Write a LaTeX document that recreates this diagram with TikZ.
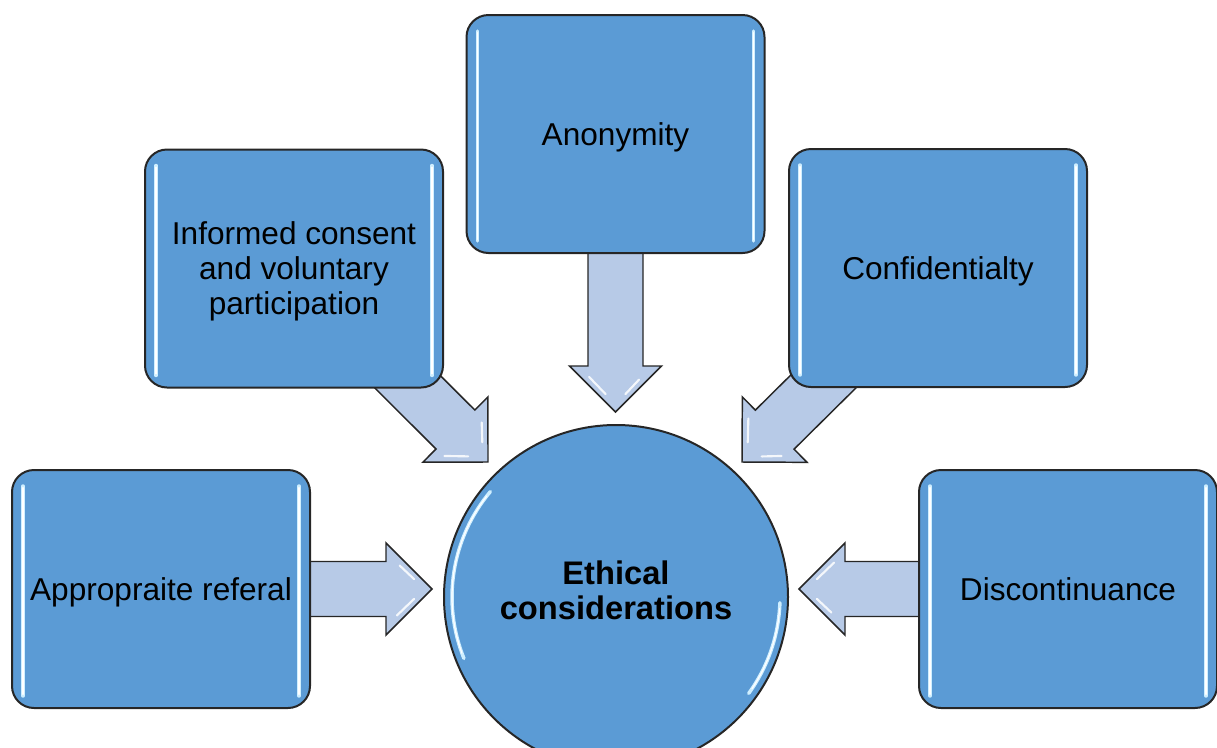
\documentclass[tikz,border=0pt]{standalone}
\usepackage{fontspec}
\setmainfont{Liberation Sans}
\usetikzlibrary{calc}
\pgfdeclarelayer{bg}
\pgfsetlayers{bg,main}
\definecolor{boxblue}{HTML}{5B9BD5}
\definecolor{arrowblue}{HTML}{B7CAE7}
\definecolor{edgegray}{HTML}{262626}
\definecolor{glint}{HTML}{CFEFFF}
\tikzset{
  boxnode/.style={draw=edgegray, line width=1.5pt, fill=boxblue, rounded corners=16.5pt,
    minimum width=223.5pt, minimum height=178.5pt, inner sep=0pt, align=center,
    font=\fontsize{23.7}{26.25}\selectfont, text=black, text height=17pt, text depth=0pt},
  hubnode/.style={circle, draw=edgegray, line width=1.5pt, fill=boxblue, minimum size=258pt,
    inner sep=0pt, align=center, font=\fontsize{24.5}{26.25}\selectfont\bfseries, text=black,
    text height=43.75pt, text depth=10.5pt},
  arrowsty/.style={draw=edgegray, line width=1.1pt, fill=arrowblue, line join=miter},
  glintline/.style={draw=glint, line width=2.6pt, line cap=round},
  glintcore/.style={draw=white, line width=0.9pt, line cap=round},
  streak/.style={draw=white, line width=1.6pt, line cap=round, opacity=0.85},
}
\newcommand\blockarrow[2]{%
  \draw[arrowsty] (#2) -- ($(#2)!48.79pt!45:(#1)$) -- ($(#2)!40.19pt!30.87:(#1)$)
    -- ($(#1)!20.625pt!-90:(#2)$) -- ($(#1)!20.625pt!90:(#2)$)
    -- ($(#2)!40.19pt!-30.87:(#1)$) -- ($(#2)!48.79pt!-45:(#1)$) -- cycle;
  \draw[streak] ($(#2)!15.4pt!29:(#1)$) -- ($(#2)!33pt!37:(#1)$);
  \draw[streak] ($(#2)!15.4pt!-29:(#1)$) -- ($(#2)!30pt!-36:(#1)$);
}
\newcommand\boxglint[1]{%
  \draw[glintline] ($(#1.north west)+(9pt,-12.75pt)$) -- ($(#1.south west)+(9pt,9.75pt)$);
  \draw[glintline] ($(#1.north east)+(-9pt,-12.75pt)$) -- ($(#1.south east)+(-9pt,9.75pt)$);
  \draw[glintcore] ($(#1.north west)+(9pt,-14pt)$) -- ($(#1.south west)+(9pt,11pt)$);
  \draw[glintcore] ($(#1.north east)+(-9pt,-14pt)$) -- ($(#1.south east)+(-9pt,11pt)$);
}
\begin{document}
\begin{tikzpicture}[x=0.75pt,y=-0.75pt]
\useasboundingbox (0,0) rectangle (1217,747);
\node[boxnode] (anon) at (615.5,134) {Anonymity};
\node[boxnode, text height=69.5pt] (inf) at (294,268.5) {Informed consent\\and voluntary\\participation};
\node[boxnode] (conf) at (938,268) {Confidentialty};
\node[boxnode] (ref) at (161,589) {Appropraite referal};
\node[boxnode] (disc) at (1068,589) {Discontinuance};
\node[hubnode] (hub) at (616,597) {Ethical\\considerations};
\coordinate (tref) at (432,589);
\coordinate (tinf) at (488,462);
\coordinate (tanon) at (615.5,412);
\coordinate (tconf) at (742,462);
\coordinate (tdisc) at (799,589);
\begin{pgfonlayer}{bg}
  \blockarrow{ref.center}{tref}
  \blockarrow{inf.center}{tinf}
  \blockarrow{anon.center}{tanon}
  \blockarrow{conf.center}{tconf}
  \blockarrow{disc.center}{tdisc}
\end{pgfonlayer}
\boxglint{anon}
\boxglint{inf}
\boxglint{conf}
\boxglint{ref}
\boxglint{disc}
\begin{scope}[shift={(hub.center)}, x=1pt, y=1pt]
  \draw[glintline] (140:123) arc[start angle=140, end angle=202, radius=123];
  \draw[glintcore] (142:123) arc[start angle=142, end angle=200, radius=123];
  \draw[glintline] (-36:123) arc[start angle=-36, end angle=-2, radius=123];
  \draw[glintcore] (-34:123) arc[start angle=-34, end angle=-4, radius=123];
\end{scope}
\end{tikzpicture}
\end{document}
